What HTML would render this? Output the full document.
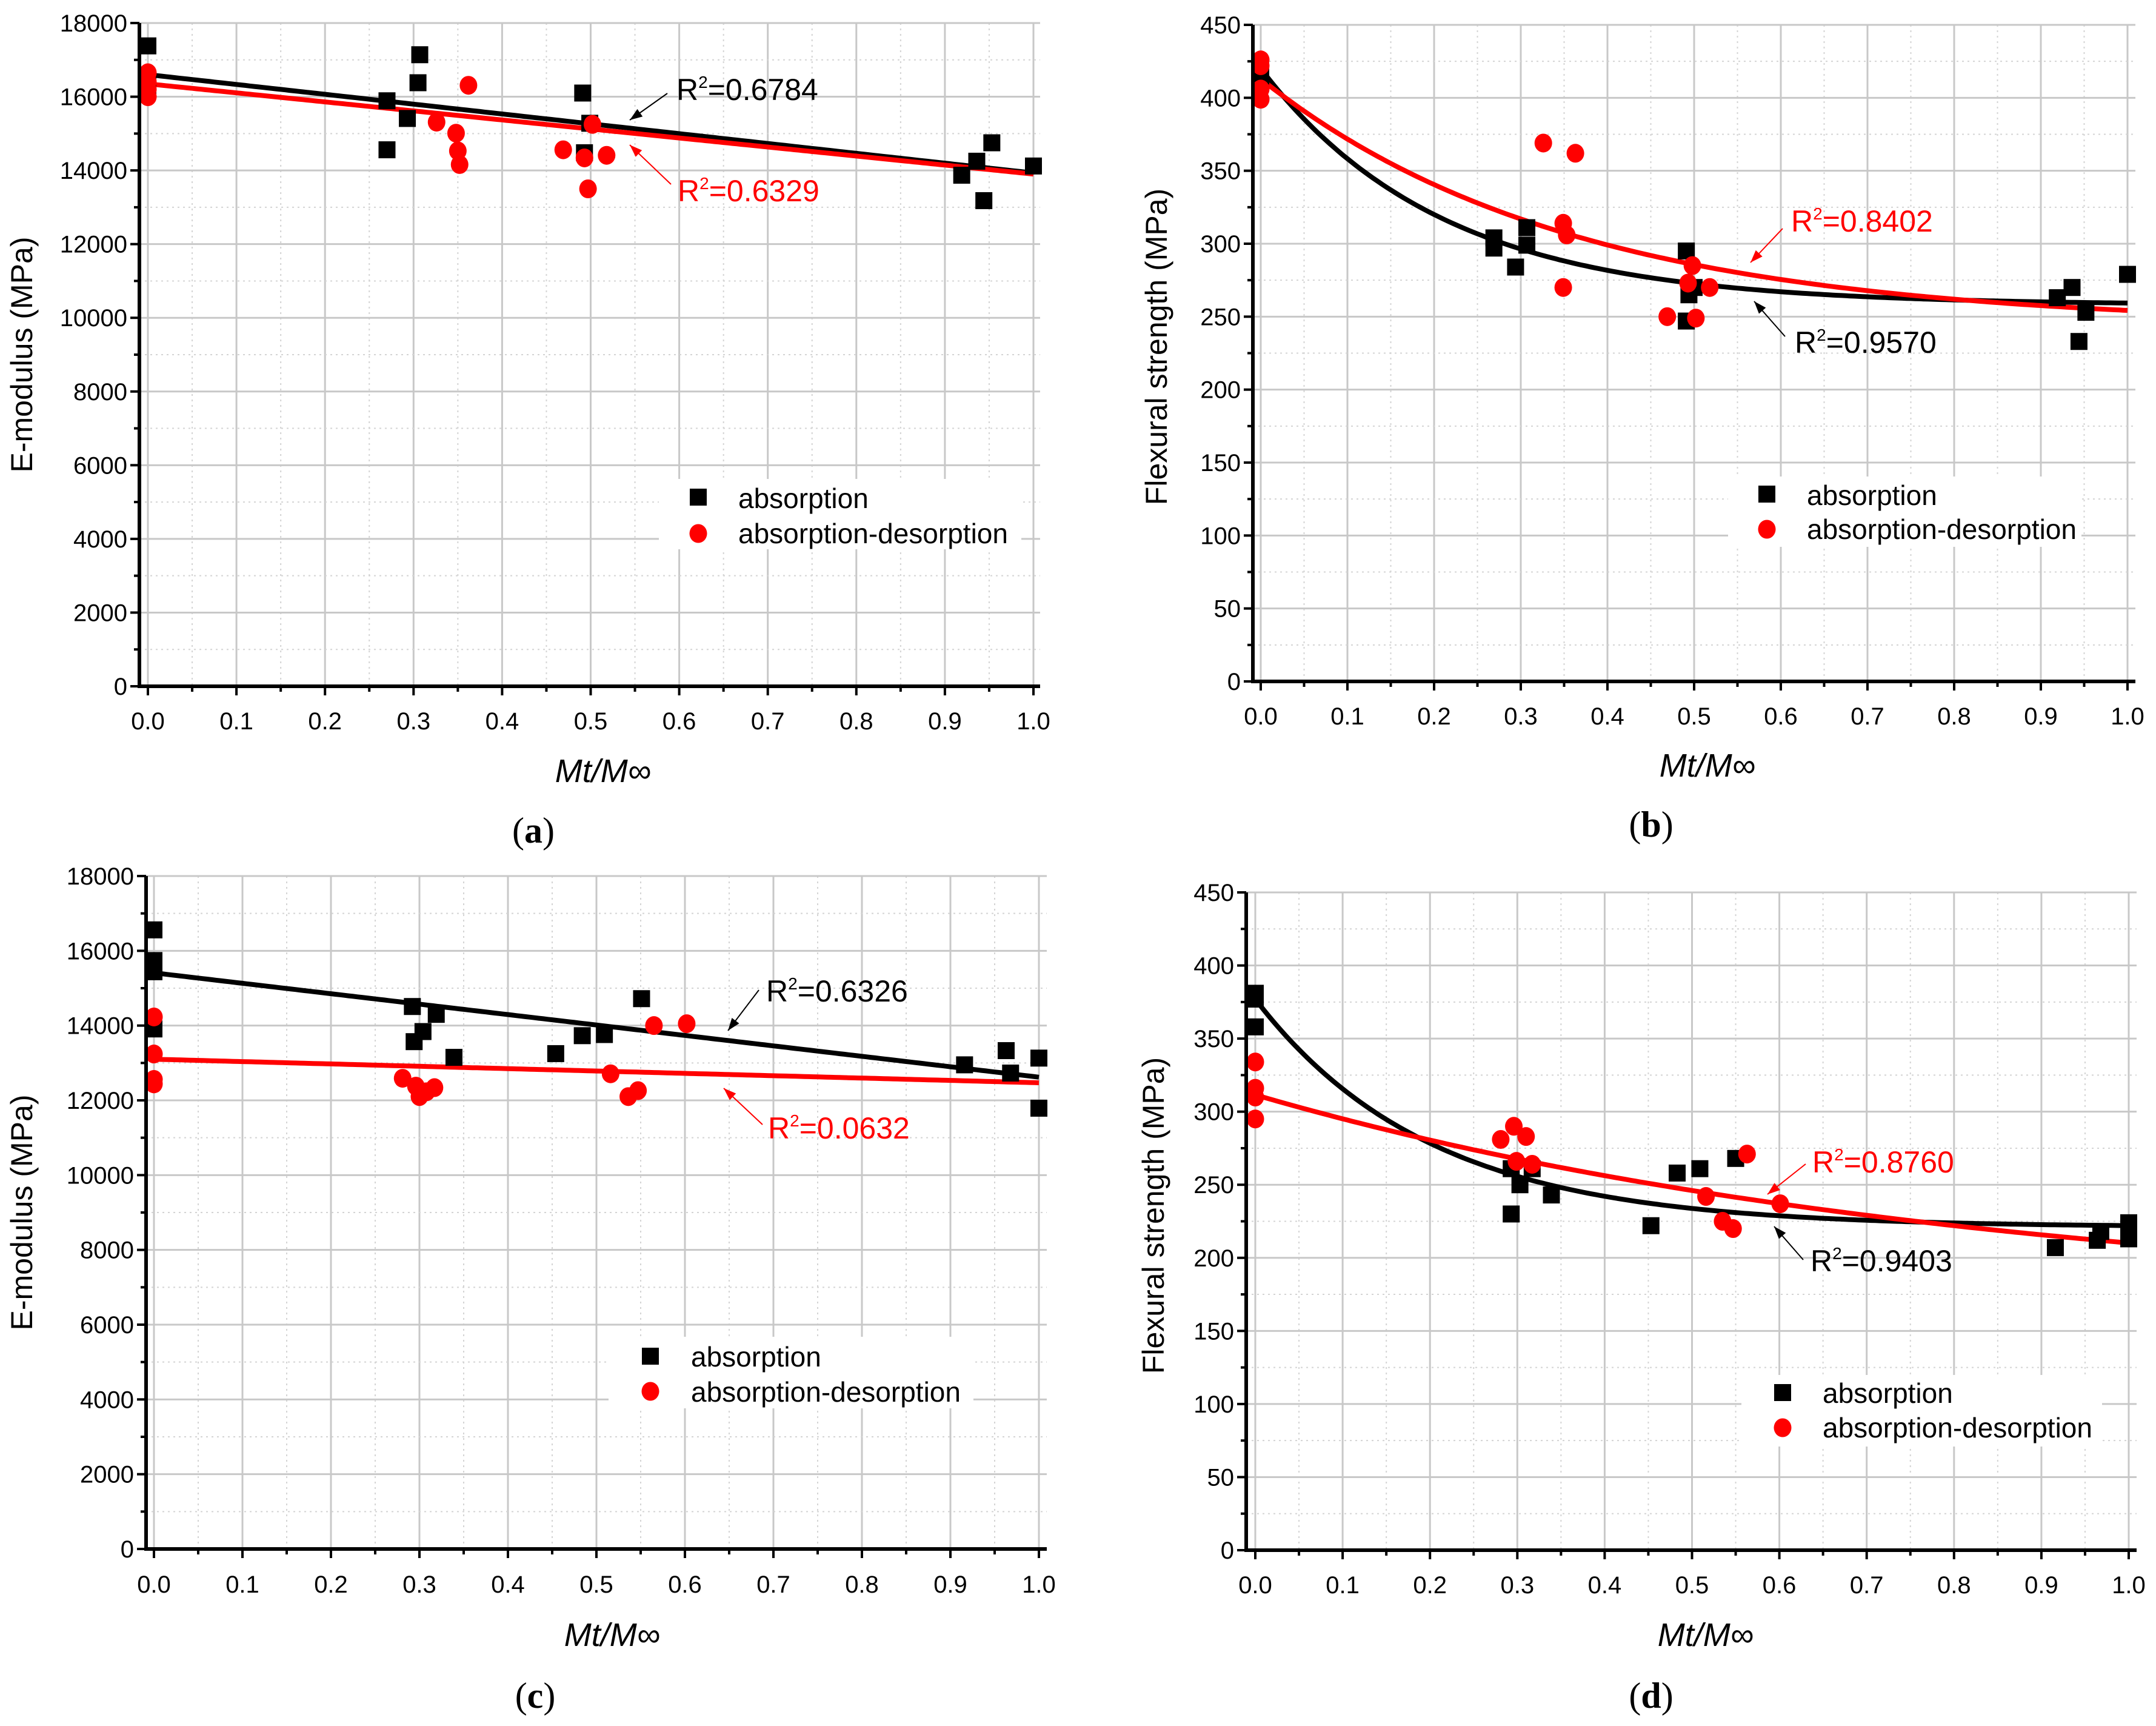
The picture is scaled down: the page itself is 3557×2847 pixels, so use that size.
<!DOCTYPE html>
<html><head><meta charset="utf-8"><title>E-modulus and flexural strength vs Mt/M∞</title>
<style>
html,body{margin:0;padding:0;background:#fff;}
svg{display:block;font-family:"Liberation Sans",Arial,sans-serif;}
</style></head>
<body>
<svg id="fig" xmlns="http://www.w3.org/2000/svg" width="3557" height="2847" viewBox="0 0 3557 2847"></svg>
<script>
// ---------- DATA (a) ----------
const aAbsX=[0,0,0.27,0.27,0.293,0.307,0.305,0.491,0.493,0.499,0.919,0.936,0.944,0.953,1.0];
const aAbsY=[17380,16300,15890,14560,15410,17140,16380,16100,14480,15280,13870,14250,13180,14750,14120];
const aDesX=[0,0,0,0,0.326,0.348,0.35,0.352,0.362,0.469,0.493,0.497,0.502,0.518];
const aDesY=[16650,16400,16200,16000,15310,15010,14530,14160,16310,14560,14340,13500,15250,14410];
const aFitAbs=[16600,13930];
const aFitDes=[16350,13900];
// ---------- DATA (b) ----------
const bAbsX=[0,0.269,0.269,0.294,0.307,0.307,0.491,0.491,0.494,0.5,0.919,0.936,0.944,0.952,1.0];
const bAbsY=[415,304,297,284,311,299,295,247,265,270,263,270,233,253,279];
const bDesX=[0,0,0,0,0.326,0.363,0.349,0.353,0.349,0.469,0.493,0.498,0.502,0.518];
const bDesY=[426,422,406,399,369,362,314,306,270,250,273,285,249,270];
const bFitAbs=[258,162,4.8];
const bFitDes=[244,169,2.8];
// ---------- DATA (c) ----------
const cAbsX=[0,0,0,0,0.292,0.294,0.304,0.319,0.339,0.454,0.484,0.509,0.551,0.916,0.963,0.968,1.0,1.0];
const cAbsY=[16560,15740,15440,13910,14510,13570,13840,14300,13150,13250,13730,13760,14720,12950,13330,12730,13130,11790];
const cDesX=[0,0,0,0,0.281,0.296,0.3,0.308,0.317,0.516,0.536,0.547,0.565,0.602];
const cDesY=[14230,13240,12560,12440,12590,12380,12100,12230,12340,12710,12100,12260,14000,14050];
const cFitAbs=[15410,12620];
const cFitDes=[13100,12470];
// ---------- DATA (d) ----------
const dAbsX=[0,0,0,0.293,0.293,0.303,0.317,0.339,0.453,0.483,0.509,0.55,0.916,0.964,0.968,1.0,1.0];
const dAbsY=[381,377,358,261,230,250,261,243,222,258,261,268,207,212,218,224,213];
const dDesX=[0,0,0,0,0.281,0.296,0.299,0.31,0.317,0.516,0.535,0.547,0.563,0.601];
const dDesY=[334,316,310,295,281,290,266,283,264,242,225,220,271,237];
const dFitAbs=[221,156,5.0];
const dFitDes=[166.5,145,1.2];
const xTicks=["0.0","0.1","0.2","0.3","0.4","0.5","0.6","0.7","0.8","0.9","1.0"];
const eTicks=["0","2000","4000","6000","8000","10000","12000","14000","16000","18000"];
const fTicks=["0","50","100","150","200","250","300","350","400","450"];

const NS="http://www.w3.org/2000/svg";
const svg=document.getElementById('fig');
function mk(tag,attrs,parent){const e=document.createElementNS(NS,tag);for(const k in attrs)e.setAttribute(k,attrs[k]);(parent||svg).appendChild(e);return e;}

const panels=[
 {id:'a',x0:244,x1:1705,left:230,right:1716,yTop:38,yBot:1132,ymax:18000,ystep:2000,ticks:eTicks,linear:true,
  abs:[aAbsX,aAbsY],des:[aDesX,aDesY],fitAbs:aFitAbs,fitDes:aFitDes,
  tickBase:1203,ytitle:"E-modulus (MPa)",ytx:40,yty:585,xtx:995,xty:1290,lx:880,lly:1390,
  rAbs:{t:"0.6784",x:1116,y:165,ax1:1101,ay1:154,ax2:1039,ay2:198},
  rDes:{t:"0.6329",x:1118,y:332,ax1:1107,ay1:304,ax2:1039,ay2:239},
  leg:{bx:1087,by:790,bw:598,bh:116,mx:1152,m1:820,m2:880,tx:1218,t1:838,t2:896}},
 {id:'b',x0:2080,x1:3510,left:2067,right:3523,yTop:41,yBot:1124,ymax:450,ystep:50,ticks:fTicks,linear:false,
  abs:[bAbsX,bAbsY],des:[bDesX,bDesY],fitAbs:bFitAbs,fitDes:bFitDes,
  tickBase:1195,ytitle:"Flexural strength (MPa)",ytx:1912,yty:572,xtx:2817,xty:1281,lx:2724,lly:1380,
  rAbs:{t:"0.9570",x:2961,y:582,ax1:2945,ay1:555,ax2:2894,ay2:497},
  rDes:{t:"0.8402",x:2955,y:382,ax1:2941,ay1:377,ax2:2888,ay2:433},
  leg:{bx:2851,by:786,bw:583,bh:116,mx:2915,m1:815,m2:873,tx:2981,t1:833,t2:889}},
 {id:'c',x0:254,x1:1714,left:241,right:1727,yTop:1445,yBot:2555,ymax:18000,ystep:2000,ticks:eTicks,linear:true,
  abs:[cAbsX,cAbsY],des:[cDesX,cDesY],fitAbs:cFitAbs,fitDes:cFitDes,
  tickBase:2627,ytitle:"E-modulus (MPa)",ytx:40,yty:2000,xtx:1010,xty:2715,lx:883,lly:2817,
  rAbs:{t:"0.6326",x:1264,y:1652,ax1:1252,ay1:1633,ax2:1201,ay2:1700},
  rDes:{t:"0.0632",x:1267,y:1878,ax1:1258,ay1:1855,ax2:1194,ay2:1795},
  leg:{bx:1004,by:2205,bw:602,bh:118,mx:1073,m1:2237,m2:2295,tx:1140,t1:2254,t2:2312}},
 {id:'d',x0:2071,x1:3512,left:2056,right:3525,yTop:1472,yBot:2557,ymax:450,ystep:50,ticks:fTicks,linear:false,
  abs:[dAbsX,dAbsY],des:[dDesX,dDesY],fitAbs:dFitAbs,fitDes:dFitDes,
  tickBase:2628,ytitle:"Flexural strength (MPa)",ytx:1907,yty:2005,xtx:2814,xty:2715,lx:2724,lly:2817,
  rAbs:{t:"0.9403",x:2987,y:2097,ax1:2975,ay1:2078,ax2:2927,ay2:2023},
  rDes:{t:"0.8760",x:2990,y:1934,ax1:2979,ay1:1920,ax2:2916,ay2:1970},
  leg:{bx:2873,by:2268,bw:595,bh:118,mx:2941,m1:2297,m2:2355,tx:3007,t1:2314,t2:2371}}
];

function fitVal(p,params,x){
  if(p.linear) return params[0]+(params[1]-params[0])*x;
  return params[0]+params[1]*Math.exp(-params[2]*x);
}

panels.forEach(p=>{
  const g=mk('g',{});
  
  
  const sx=v=>p.x0+v*(p.x1-p.x0);
  const sy=v=>p.yBot-v/p.ymax*(p.yBot-p.yTop);
  const grid=mk('g',{},g);
  
  
  for(let i=0;i<=20;i++){
    const v=i*0.05, X=sx(v), major=i%2===0;
    mk('line',{x1:X,y1:p.yTop,x2:X,y2:p.yBot,stroke:major?'#c8c8c8':'#d4d4d4','stroke-width':major?3:2,'stroke-dasharray':major?'none':'3,6'},grid);
  }
  const nMinor=(p.ticks.length-1)*2;
  for(let i=1;i<=nMinor;i++){
    const v=i*p.ystep/2, Y=sy(v), major=i%2===0;
    mk('line',{x1:p.left,y1:Y,x2:p.right,y2:Y,stroke:major?'#c8c8c8':'#d4d4d4','stroke-width':major?3:2,'stroke-dasharray':major?'none':'3,6'},grid);
  }
  const L=p.leg;
  const lg=mk('g',{},g);
  
  
  mk('rect',{x:L.bx,y:L.by,width:L.bw,height:L.bh,fill:'#fff'},lg);
  function fitPath(params,color,name){
    let d='';
    for(let i=0;i<=200;i++){const x=i/200;d+=(i?'L':'M')+sx(x).toFixed(1)+','+sy(fitVal(p,params,x)).toFixed(1);}
    const path=mk('path',{d:d,fill:'none',stroke:color,'stroke-width':8},g);
    
    
  }
  fitPath(p.fitAbs,'#000','fit-line-absorption-'+p.id);
  fitPath(p.fitDes,'#ff0000','fit-line-absorption-desorption-'+p.id);
  p.abs[0].forEach((x,i)=>{
    const r=mk('rect',{x:sx(x)-14,y:sy(p.abs[1][i])-14,width:28,height:28,fill:'#000'},g);
    
    
  });
  p.des[0].forEach((x,i)=>{
    const c=mk('ellipse',{cx:sx(x),cy:sy(p.des[1][i]),rx:14.5,ry:15.5,fill:'#ff0000'},g);
    
    
  });
  const ax=mk('g',{},g);
  
  
  mk('line',{x1:p.left,y1:p.yTop,x2:p.left,y2:p.yBot+3,stroke:'#000','stroke-width':6},ax);
  mk('line',{x1:p.left-3,y1:p.yBot,x2:p.right,y2:p.yBot,stroke:'#000','stroke-width':6},ax);
  for(let i=0;i<=20;i++){
    const X=sx(i*0.05), major=i%2===0;
    mk('line',{x1:X,y1:p.yBot,x2:X,y2:p.yBot+(major?15:9),stroke:'#000','stroke-width':4},ax);
  }
  for(let i=0;i<=nMinor;i++){
    const Y=sy(i*p.ystep/2), major=i%2===0;
    mk('line',{x1:p.left,y1:Y,x2:p.left-(major?15:9),y2:Y,stroke:'#000','stroke-width':4},ax);
  }
  xTicks.forEach((t,i)=>{
    const tx=mk('text',{x:sx(i*0.1),y:p.tickBase,'font-size':40,'text-anchor':'middle',fill:'#000'},ax);
    tx.textContent=t;
    
    
  });
  p.ticks.forEach((t,i)=>{
    const ty=mk('text',{x:p.left-20,y:sy(i*p.ystep)+14,'font-size':40,'text-anchor':'end',fill:'#000'},ax);
    ty.textContent=t;
    
    
  });
  const yt=mk('text',{x:p.ytx,y:p.yty,'font-size':50,'text-anchor':'middle',fill:'#000',transform:'rotate(-90 '+p.ytx+' '+p.yty+')','dominant-baseline':'middle'},g);
  yt.textContent=p.ytitle;
  
  
  const xt=mk('text',{x:p.xtx,y:p.xty,'font-size':54,'font-style':'italic','text-anchor':'middle',fill:'#000'},g);
  xt.textContent='Mt/M∞';
  
  
  const lab=mk('text',{x:p.lx,y:p.lly,'font-size':60,'font-family':'"Liberation Serif",serif','text-anchor':'middle',fill:'#000'},g);
  lab.innerHTML='(<tspan font-weight="bold">'+p.id+'</tspan>)';
  
  
  function ann(a,color,name){
    const ag=mk('g',{},g);
    
    
    mk('line',{x1:a.ax1,y1:a.ay1,x2:a.ax2,y2:a.ay2,stroke:color,'stroke-width':2},ag);
    const ang=Math.atan2(a.ay2-a.ay1,a.ax2-a.ax1), L2=22, w=0.35;
    const p1=[a.ax2-L2*Math.cos(ang-w),a.ay2-L2*Math.sin(ang-w)], p2=[a.ax2-L2*Math.cos(ang+w),a.ay2-L2*Math.sin(ang+w)];
    mk('polygon',{points:a.ax2+','+a.ay2+' '+p1.join(',')+' '+p2.join(','),fill:color},ag);
    const t=mk('text',{x:a.x,y:a.y,'font-size':50,fill:color},ag);
    t.innerHTML='R<tspan dy="-20" font-size="28">2</tspan><tspan dy="20">='+a.t+'</tspan>';
  }
  ann(p.rAbs,'#000','r-squared-absorption-'+p.id);
  ann(p.rDes,'#ff0000','r-squared-absorption-desorption-'+p.id);
  const e1=mk('rect',{x:L.mx-14,y:L.m1-14,width:28,height:28,fill:'#000'},lg);
  
  
  const e2=mk('ellipse',{cx:L.mx,cy:L.m2,rx:14.5,ry:15.5,fill:'#ff0000'},lg);
  
  
  const t1=mk('text',{x:L.tx,y:L.t1,'font-size':46,fill:'#000'},lg);
  t1.textContent='absorption';
  
  
  const t2=mk('text',{x:L.tx,y:L.t2,'font-size':46,fill:'#000'},lg);
  t2.textContent='absorption-desorption';
  
  
});
</script>
</body></html>
